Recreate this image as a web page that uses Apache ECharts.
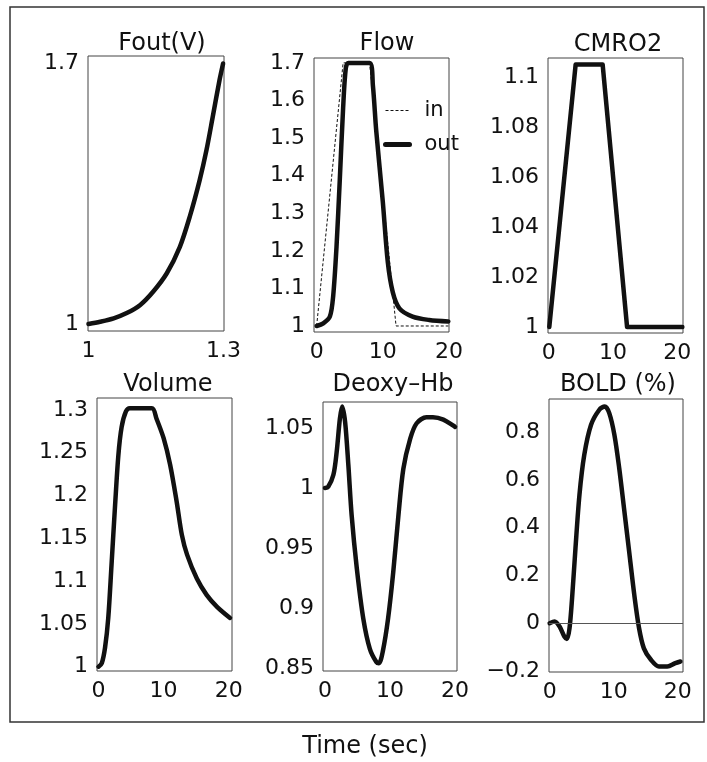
<!DOCTYPE html>
<html>
<head>
<meta charset="utf-8">
<title>Balloon model responses</title>
<script src="https://cdn.jsdelivr.net/npm/echarts@6/dist/echarts.min.js"></script>
<style>
  html, body { margin: 0; padding: 0; background: #fff; }
  #chart { width: 707px; height: 762px; }
</style>
</head>
<body>
<div id="chart"></div>
<script>
// ---- Outflow as a function of volume ----
const foutV = [1.0, 1.026, 1.056, 1.085, 1.115, 1.144, 1.174, 1.203, 1.225, 1.247, 1.262, 1.276, 1.291, 1.299];
const foutF = [1.0, 1.006, 1.015, 1.029, 1.051, 1.087, 1.136, 1.207, 1.288, 1.386, 1.466, 1.556, 1.654, 1.699];

// ---- Flow: inflow (dashed) and outflow (thick) ----
const flowInT = [0, 4, 8, 12, 19.9];
const flowIn  = [1.0, 1.7, 1.7, 1.0, 1.0];
const flowOutT = [0, 1, 2, 2.5, 3, 3.5, 4, 4.4, 4.8, 8, 8.5, 9, 10, 10.75, 11.5, 12.5, 14.5, 17, 19.9];
const flowOut  = [1.0, 1.007, 1.025, 1.08, 1.21, 1.39, 1.58, 1.685, 1.7, 1.7, 1.64, 1.52, 1.33, 1.17, 1.09, 1.047, 1.025, 1.016, 1.012];

// ---- CMRO2 ----
const cmroT = [0.1, 4.2, 8.4, 12.2, 20.8];
const cmro  = [1.0, 1.105, 1.105, 1.0, 1.0];

// ---- Volume ----
const volT = [0, 0.5, 1, 1.5, 2, 2.55, 3.05, 3.55, 4.2, 4.8, 8.2, 8.9, 10, 11, 12, 12.8, 13.6, 15.1, 16.6, 18.2, 20.2];
const vol  = [1.0, 1.004, 1.022, 1.057, 1.119, 1.189, 1.247, 1.28, 1.298, 1.302, 1.302, 1.29, 1.267, 1.236, 1.193, 1.154, 1.131, 1.103, 1.084, 1.07, 1.057];

// ---- Deoxyhemoglobin ----
const deoxyT = [0, 0.5, 1.3, 1.8, 2.3, 2.65, 3.1, 3.6, 4.1, 4.9, 5.9, 6.9, 7.9, 8.3, 8.9, 9.7, 10.5, 11.3, 12.05, 13.1, 14.1, 15.6, 16.6, 18.2, 20];
const deoxy  = [1.0, 1.001, 1.011, 1.03, 1.058, 1.068, 1.055, 1.019, 0.9775, 0.933, 0.891, 0.866, 0.855, 0.854, 0.864, 0.891, 0.93, 0.9775, 1.016, 1.041, 1.054, 1.059, 1.059, 1.057, 1.051];

// ---- BOLD signal (%) ----
const boldT = [0, 0.78, 1.55, 2.3, 2.7, 3.1, 3.5, 4.03, 4.65, 5.4, 6.46, 7.75, 8.6, 9.3, 10.1, 10.85, 11.6, 12.4, 13.2, 13.95, 14.7, 15.8, 17.05, 18.35, 19.6, 20.4];
const bold  = [0, 0.007, -0.014, -0.056, -0.066, -0.021, 0.105, 0.314, 0.537, 0.704, 0.83, 0.893, 0.907, 0.879, 0.788, 0.649, 0.481, 0.3, 0.119, -0.021, -0.105, -0.153, -0.181, -0.181, -0.167, -0.16];

// ---- Tick labels ----
const timeTicks  = [0, 10, 20];
const foutXTicks = [1, 1.3];
const foutYTicks = [1, 1.7];
const flowYTicks = [1, 1.1, 1.2, 1.3, 1.4, 1.5, 1.6, 1.7];
const cmroYTicks = [1, 1.02, 1.04, 1.06, 1.08, 1.1];
const volYTicks  = [1, 1.05, 1.1, 1.15, 1.2, 1.25, 1.3];
const deoxyYTicks = [0.85, 0.9, 0.95, 1, 1.05];
const boldYTicks = [-0.2, 0, 0.2, 0.4, 0.6, 0.8];

const titles = ['Fout(V)', 'Flow', 'CMRO2', 'Volume', 'Deoxy\u2013Hb', 'BOLD (%)'];

const FONT = '"DejaVu Sans", Verdana, sans-serif';
const INK = '#111';

const pair = (xs, ys) => xs.map((x, i) => [x, ys[i]]);

// panel frames and axis extents
const panels = [
  { box: [88, 56, 136, 275],  x: [0.999, 1.301], y: [0.981, 1.719], xt: foutXTicks, yt: foutYTicks, tx: 157, ty: 39 },
  { box: [314, 58, 135, 274], x: [-0.4, 20],     y: [0.984, 1.713], xt: timeTicks,  yt: flowYTicks, tx: 382, ty: 39 },
  { box: [548, 58, 135, 275], x: [-0.1, 20.9],   y: [0.9976, 1.1076], xt: timeTicks, yt: cmroYTicks, tx: 613, ty: 40 },
  { box: [97, 398, 135, 273], x: [-0.23, 20.5],  y: [0.995, 1.314], xt: timeTicks,  yt: volYTicks,  tx: 163, ty: 380 },
  { box: [323, 402, 134, 269], x: [-0.3, 20.3],  y: [0.8475, 1.0717], xt: timeTicks, yt: deoxyYTicks, tx: 388, ty: 380 },
  { box: [549, 399, 134, 273], x: [-0.1, 20.8],  y: [-0.204, 0.938], xt: timeTicks, yt: boldYTicks, tx: 613, ty: 380 }
];

const fmt = v => String(v).replace('-', '\u2212');

const grid = panels.map(p => ({
  left: p.box[0], top: p.box[1], width: p.box[2], height: p.box[3],
  show: true, borderColor: '#444', borderWidth: 1, backgroundColor: 'transparent'
}));

const xAxis = panels.map((p, i) => ({
  type: 'value', gridIndex: i, min: p.x[0], max: p.x[1],
  axisLine: { show: false }, axisTick: { show: false }, splitLine: { show: false },
  axisLabel: { customValues: p.xt, formatter: fmt, color: INK, fontFamily: FONT, fontSize: 22, margin: 9 }
}));

const yAxis = panels.map((p, i) => ({
  type: 'value', gridIndex: i, min: p.y[0], max: p.y[1],
  axisLine: { show: false }, axisTick: { show: false }, splitLine: { show: false },
  axisLabel: { customValues: p.yt, formatter: fmt, color: INK, fontFamily: FONT, fontSize: 22, margin: 9 }
}));

const curve = (name, idx, data, extra) => Object.assign({
  name, type: 'line', xAxisIndex: idx, yAxisIndex: idx, data,
  showSymbol: false, symbol: 'none', smooth: 0.3, animation: false,
  itemStyle: { color: INK },
  lineStyle: { color: INK, width: 4.5, cap: 'round', join: 'round' }
}, extra || {});

const series = [
  curve('Fout', 0, pair(foutV, foutF)),
  curve('in', 1, pair(flowInT, flowIn), { smooth: false, z: 3, lineStyle: { color: INK, width: 1, type: [3, 2] } }),
  curve('out', 1, pair(flowOutT, flowOut)),
  curve('CMRO2', 2, pair(cmroT, cmro), { smooth: false }),
  curve('Volume', 3, pair(volT, vol)),
  curve('Deoxy', 4, pair(deoxyT, deoxy)),
  curve('BOLD', 5, pair(boldT, bold), {
    markLine: {
      silent: true, symbol: 'none', animation: false,
      label: { show: false },
      lineStyle: { color: '#555', width: 1, type: 'solid' },
      data: [{ yAxis: 0 }]
    }
  })
];

const chart = echarts.init(document.getElementById('chart'), null, { renderer: 'canvas' });
chart.setOption({
  backgroundColor: '#fff',
  animation: false,
  title: panels.map((p, i) => ({
    text: titles[i], left: p.tx, top: p.ty, textAlign: 'center', textVerticalAlign: 'middle',
    textStyle: { fontFamily: FONT, fontSize: 24, fontWeight: 'normal', color: INK }
  })),
  legend: {
    data: [
      { name: 'in', lineStyle: { width: 1, type: [3, 2], color: INK } },
      { name: 'out', lineStyle: { width: 5, color: INK } }
    ],
    orient: 'vertical', left: 378, top: 95,
    itemWidth: 24, itemHeight: 14, itemGap: 13,
    itemStyle: { opacity: 0 },
    textStyle: { fontFamily: FONT, fontSize: 21, color: INK, padding: [0, 0, 0, 10] },
    selectedMode: false
  },
  grid, xAxis, yAxis, series,
  graphic: [
    { type: 'rect', shape: { x: 10, y: 7, width: 694, height: 715 }, style: { fill: 'none', stroke: '#333', lineWidth: 1.5 }, silent: true },
    { type: 'text', x: 365, y: 747, style: { text: 'Time (sec)', font: '24px "DejaVu Sans", Verdana, sans-serif', fill: INK, textAlign: 'center', textVerticalAlign: 'middle' } }
  ]
});
</script>
</body>
</html>
